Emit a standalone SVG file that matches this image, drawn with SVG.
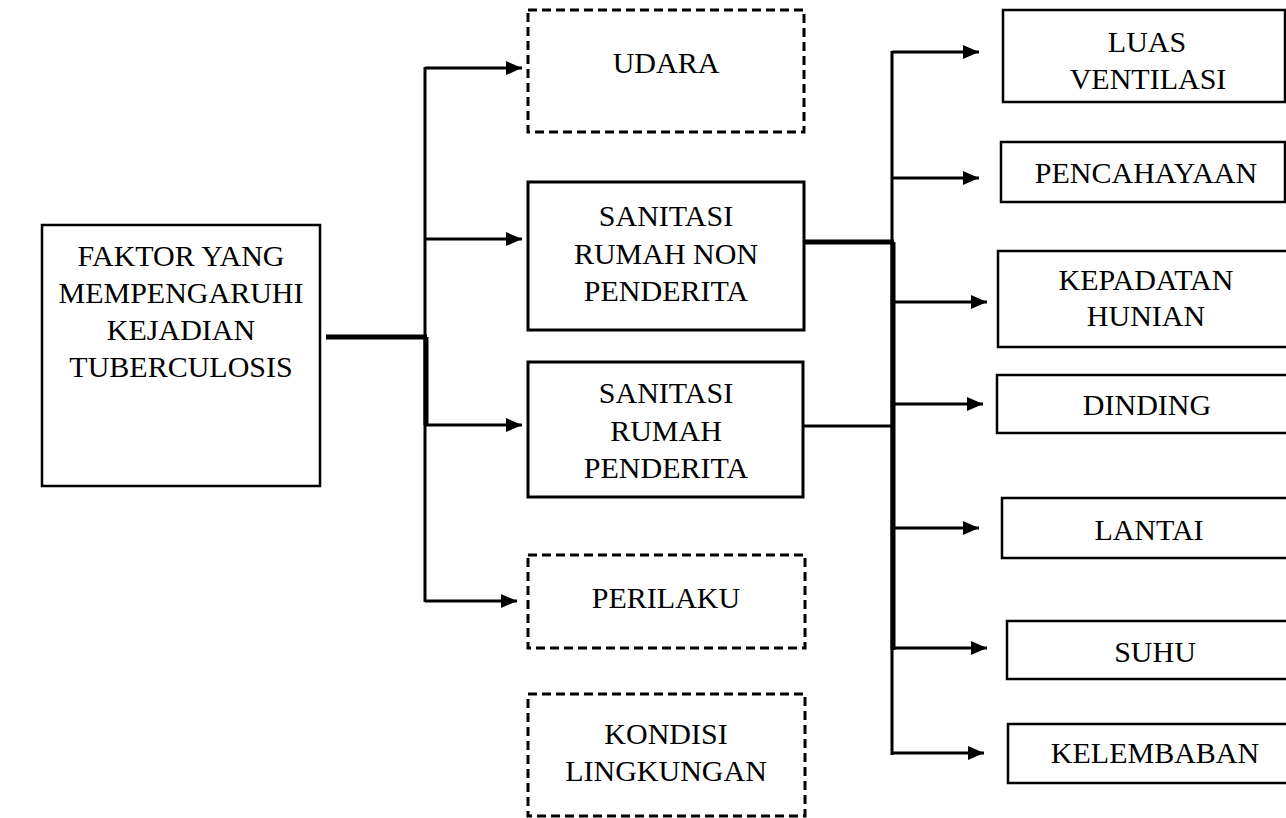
<svg xmlns="http://www.w3.org/2000/svg" width="1286" height="818" viewBox="0 0 1286 818">
<style>
.box{fill:#fff;stroke:#000;stroke-width:2.5}
.bold{fill:#fff;stroke:#000;stroke-width:3}
.dash{fill:#fff;stroke:#000;stroke-width:3;stroke-dasharray:9 5}
.t{font-family:"Liberation Serif","Times New Roman",serif;font-size:30px;fill:#000;text-anchor:middle}
.ln{stroke:#000;stroke-width:3;fill:none}
.thick{stroke:#000;stroke-width:5;fill:none}
</style>
<defs>
<marker id="ah" markerUnits="userSpaceOnUse" markerWidth="18" markerHeight="18" refX="16" refY="8" orient="auto">
<polygon points="0,1 16,8 0,15" fill="#000"/>
</marker>
</defs>
<g id="connectors">
<line class="thick" x1="326" y1="337" x2="427" y2="337"/>
<line class="ln" x1="425" y1="67" x2="425" y2="602"/>
<line class="thick" x1="426" y1="337" x2="426" y2="425"/>
<polyline class="ln" points="425,68 522,68" marker-end="url(#ah)"/>
<polyline class="ln" points="425,239 522,239" marker-end="url(#ah)"/>
<polyline class="ln" points="425,425 522,425" marker-end="url(#ah)"/>
<polyline class="ln" points="425,601 517,601" marker-end="url(#ah)"/>
<line class="thick" x1="799" y1="242" x2="894" y2="242"/>
<line class="ln" x1="803" y1="426" x2="892" y2="426"/>
<line class="ln" x1="892" y1="51" x2="892" y2="755"/>
<line class="thick" x1="893" y1="242" x2="893" y2="650"/>
<polyline class="ln" points="892,52 979,52" marker-end="url(#ah)"/>
<polyline class="ln" points="892,178 979,178" marker-end="url(#ah)"/>
<polyline class="ln" points="892,302 987,302" marker-end="url(#ah)"/>
<polyline class="ln" points="892,404 983,404" marker-end="url(#ah)"/>
<polyline class="ln" points="892,528 979,528" marker-end="url(#ah)"/>
<polyline class="ln" points="892,648 987,648" marker-end="url(#ah)"/>
<polyline class="ln" points="892,753 984,753" marker-end="url(#ah)"/>
</g>
<g id="faktor">
<rect class="box" x="42" y="225" width="278" height="261"/>
<text class="t" x="181" y="266">FAKTOR YANG</text>
<text class="t" x="181" y="303">MEMPENGARUHI</text>
<text class="t" x="181" y="340">KEJADIAN</text>
<text class="t" x="181" y="377">TUBERCULOSIS</text>
</g>
<g id="udara">
<rect class="dash" x="528" y="10" width="276" height="122"/>
<text class="t" x="666" y="73">UDARA</text>
</g>
<g id="sanitasi-non">
<rect class="bold" x="528" y="182" width="276" height="148"/>
<text class="t" x="666" y="226">SANITASI</text>
<text class="t" x="666" y="264">RUMAH NON</text>
<text class="t" x="666" y="301">PENDERITA</text>
</g>
<g id="sanitasi-penderita">
<rect class="bold" x="528" y="362" width="275" height="135"/>
<text class="t" x="666" y="403">SANITASI</text>
<text class="t" x="666" y="441">RUMAH</text>
<text class="t" x="666" y="478">PENDERITA</text>
</g>
<g id="perilaku">
<rect class="dash" x="528" y="555" width="277" height="93"/>
<text class="t" x="666" y="608">PERILAKU</text>
</g>
<g id="kondisi">
<rect class="dash" x="528" y="694" width="277" height="122"/>
<text class="t" x="666" y="744">KONDISI</text>
<text class="t" x="666" y="781">LINGKUNGAN</text>
</g>
<g id="luas">
<rect class="box" x="1003" y="10" width="282" height="92"/>
<text class="t" x="1147" y="52">LUAS</text>
<text class="t" x="1148" y="89">VENTILASI</text>
</g>
<g id="pencahayaan">
<rect class="box" x="1001" y="142" width="284" height="60"/>
<text class="t" x="1146" y="183">PENCAHAYAAN</text>
</g>
<g id="kepadatan">
<rect class="box" x="998" y="251" width="292" height="96"/>
<text class="t" x="1146" y="290">KEPADATAN</text>
<text class="t" x="1146" y="326">HUNIAN</text>
</g>
<g id="dinding">
<rect class="box" x="997" y="375" width="296" height="58"/>
<text class="t" x="1147" y="415">DINDING</text>
</g>
<g id="lantai">
<rect class="box" x="1002" y="498" width="296" height="60"/>
<text class="t" x="1149" y="540">LANTAI</text>
</g>
<g id="suhu">
<rect class="box" x="1007" y="621" width="300" height="58"/>
<text class="t" x="1155" y="662">SUHU</text>
</g>
<g id="kelembaban">
<rect class="box" x="1008" y="724" width="300" height="59"/>
<text class="t" x="1155" y="763">KELEMBABAN</text>
</g>
</svg>
